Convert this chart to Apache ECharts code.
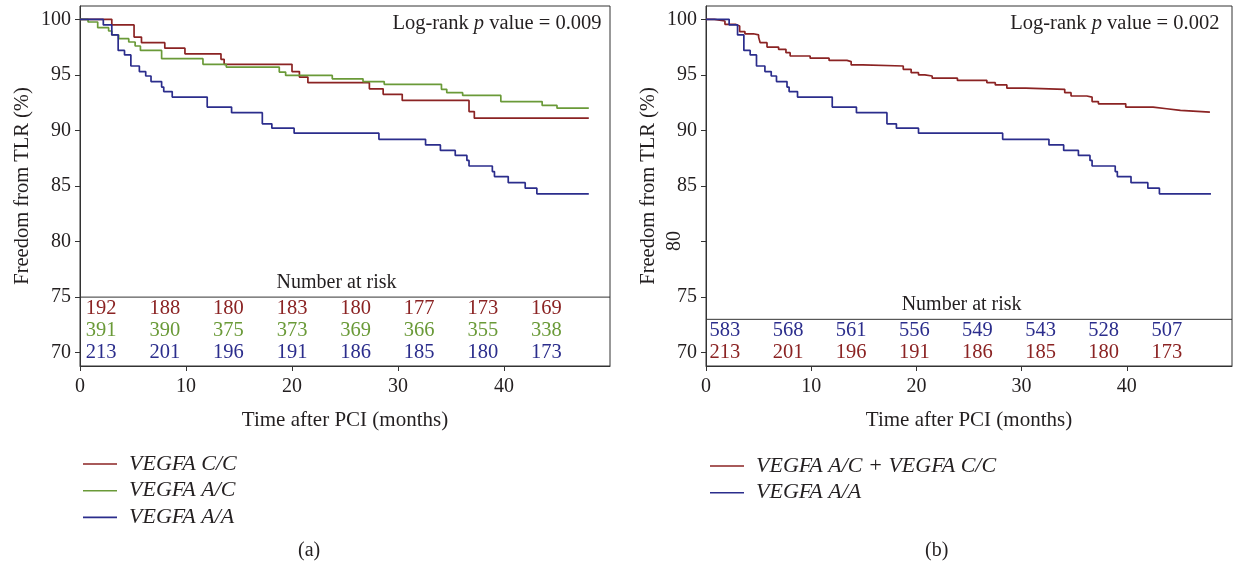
<!DOCTYPE html>
<html>
<head>
<meta charset="utf-8">
<script src="https://cdn.jsdelivr.net/npm/echarts@6/dist/echarts.min.js"></script>
<style>
  html, body { margin: 0; background: #fff; }
  #chart { width: 1235px; height: 565px; }
</style>
</head>
<body>
<div id="chart"></div>
<script>
// Kaplan-Meier curves: [months, freedom from TLR %]
var curveCC = [[0,100],[3.0,99.5],[5.1,98.4],[5.8,97.9],[8.0,97.4],[9.9,96.9],[13.3,96.4],[13.6,95.95],
  [20.0,95.3],[20.7,94.8],[21.5,94.3],[27.3,93.75],[28.6,93.25],[30.4,92.7],[36.7,91.7],[37.2,91.1],[48.0,91.1]]
var curveAC = [[0,100],[0.76,99.76],[1.67,99.25],[2.7,98.95],[3.0,98.6],[3.65,98.26],[4.6,97.96],[5.2,97.6],
  [5.7,97.2],[7.7,96.46],[11.6,95.95],[13.8,95.7],[18.8,95.25],[19.4,94.95],[23.8,94.65],[26.7,94.4],[28.7,94.15],
  [34.1,93.7],[34.6,93.4],[36.1,93.15],[39.7,92.6],[43.6,92.25],[45.0,92.0],[48.0,92.0]]
var curveAA = [[0,100],[2.2,99.5],[3.0,98.6],[3.6,97.2],[4.2,96.8],[4.8,95.8],[5.6,95.3],[6.2,94.9],[6.7,94.4],
  [7.7,93.9],[7.9,93.5],[8.7,93.0],[12.0,92.1],[14.3,91.6],[17.2,90.6],[18.1,90.2],[20.2,89.75],[28.2,89.2],
  [32.6,88.7],[34.0,88.2],[35.4,87.75],[36.5,87.3],[36.7,86.8],[38.9,86.3],[39.1,85.85],[40.4,85.3],[42.0,84.8],
  [43.1,84.3],[48.0,84.3]]
var curveACCC = [[0,100],[0.8,99.85],[1.8,99.55],[2.8,99.4],[3.2,98.9],[3.7,98.7],[4.5,98.6],[5.0,98.4],[5.15,97.9],
  [5.8,97.5],[6.9,97.3],[7.6,97.0],[8.0,96.7],[9.9,96.5],[11.7,96.3],[13.4,96.2],[13.8,95.9],[14.9,95.8],
  [18.75,95.5],[19.5,95.2],[20.2,95.0],[20.8,94.9],[21.5,94.7],[23.9,94.5],[26.7,94.3],[27.5,94.1],[28.6,93.8],
  [30.4,93.7],[34.1,93.4],[34.7,93.1],[36.2,93.0],[36.7,92.6],[37.3,92.4],[39.9,92.1],[42.5,91.95],[43.8,91.8],
  [45.1,91.65],[47.9,91.65]]

// number-at-risk table
var riskTimes = [0, 6, 12, 18, 24, 30, 36, 42]
var riskCC = [192, 188, 180, 183, 180, 177, 173, 169]
var riskAC = [391, 390, 375, 373, 369, 366, 355, 338]
var riskAA = [213, 201, 196, 191, 186, 185, 180, 173]
var riskACCC = [583, 568, 561, 556, 549, 543, 528, 507]

var yTicks = [70, 75, 80, 85, 90, 95, 100]
var xTicks = [0, 10, 20, 30, 40]

var nameCC = 'VEGFA C/C', nameAC = 'VEGFA A/C', nameAA = 'VEGFA A/A', nameACCC = 'VEGFA A/C + VEGFA C/C'

var RED = '#8b2323', GREEN = '#6a9a38', BLUE = '#2b2d8c', INK = '#231f20'
var FONT = '"Liberation Serif", "DejaVu Serif", serif'

var mychart = echarts.init(document.getElementById('chart'))

function xAx(grid) {
  return {
    type: 'value', gridIndex: grid, min: 0, max: 50,
    name: 'Time after PCI (months)', nameLocation: 'middle', nameGap: 44,
    nameTextStyle: { fontFamily: FONT, fontSize: 21, color: INK },
    axisLine: { lineStyle: { color: '#333', width: 1 } },
    axisTick: { customValues: xTicks, length: 5, lineStyle: { color: '#333' } },
    axisLabel: { customValues: xTicks, margin: 11, fontFamily: FONT, fontSize: 20, color: INK },
    splitLine: { show: false }
  }
}
function yAx(grid, labels) {
  return {
    type: 'value', gridIndex: grid, min: 68.8, max: 101.2,
    name: 'Freedom from TLR (%)', nameLocation: 'middle', nameGap: 47,
    nameTextStyle: { fontFamily: FONT, fontSize: 20.5, color: INK },
    axisLine: { show: true, lineStyle: { color: '#333', width: 1 } },
    axisTick: { show: true, customValues: yTicks, length: 5, lineStyle: { color: '#333' } },
    axisLabel: { customValues: labels, margin: 9, fontFamily: FONT, fontSize: 20, color: INK },
    splitLine: { show: false }
  }
}

function km(name, data, color, grid) {
  return {
    name: name, type: 'line', step: 'end', data: data, xAxisIndex: grid, yAxisIndex: grid,
    showSymbol: false, symbol: 'none', silent: true,
    lineStyle: { color: color, width: 1.7 }, itemStyle: { color: color }
  }
}

// invisible points that only carry a text label (scatter defaults to 0.8 opacity, so force 1)
function textSeries(grid, items) {
  return {
    type: 'scatter', xAxisIndex: grid, yAxisIndex: grid, symbolSize: 0, silent: true,
    data: items, itemStyle: { color: 'transparent', opacity: 1 },
    label: { show: true, position: 'inside', fontFamily: FONT, fontSize: 20, color: INK,
      textBorderWidth: 0, formatter: function (p) { return p.data.txt } }
  }
}

function riskRow(grid, counts, rowY, color, offset) {
  return textSeries(grid, counts.map(function (c, i) {
    return { value: [riskTimes[i] + offset, rowY], txt: String(c), label: { color: color, fontSize: 20.5 } }
  }))
}

function hline(grid, y) {
  return {
    type: 'line', xAxisIndex: grid, yAxisIndex: grid, data: [[0, y], [50, y]], symbol: 'none', silent: true,
    lineStyle: { color: '#333', width: 1 }
  }
}

function logRank(grid, x, txt) {
  return {
    type: 'scatter', xAxisIndex: grid, yAxisIndex: grid, symbolSize: 0, silent: true,
    itemStyle: { color: 'transparent', opacity: 1 },
    data: [[x, 99.6]],
    label: {
      show: true, position: 'inside', align: 'right',
      formatter: '{t|Log-rank }{i|p}{t| value = ' + txt + '}',
      rich: {
        t: { fontFamily: FONT, fontSize: 20.5, color: INK },
        i: { fontFamily: FONT, fontSize: 20.5, fontStyle: 'italic', color: INK }
      }
    }
  }
}

var legendStyle = {
  orient: 'vertical', icon: 'rect', itemWidth: 34, itemHeight: 1.6, itemGap: 4.7,
  textStyle: { fontFamily: FONT, fontSize: 22, fontStyle: 'italic', color: INK, lineHeight: 22, padding: [0, 0, 0, 7] },
  selectedMode: false
}

var options = {
  animation: false,
  backgroundColor: '#fff',
  grid: [
    { left: 80, right: 625, top: 6, bottom: 199, show: true, borderColor: '#333', borderWidth: 1 },
    { left: 706, right: 3, top: 6, bottom: 199, show: true, borderColor: '#333', borderWidth: 1 }
  ],
  xAxis: [xAx(0), xAx(1)],
  yAxis: [yAx(0, yTicks), yAx(1, [70, 75, 85, 90, 95, 100])],
  legend: [
    Object.assign({ left: 78, top: 448, data: [nameCC, nameAC, nameAA] }, legendStyle),
    Object.assign({ left: 705, top: 450, data: [nameACCC, nameAA] }, legendStyle)
  ],
  graphic: [
    { type: 'text', left: 298, top: 541, style: { text: '(a)', font: '20px ' + FONT, fill: INK } },
    { type: 'text', left: 925, top: 541, style: { text: '(b)', font: '20px ' + FONT, fill: INK } },
    { type: 'text', x: 675, y: 241, rotation: Math.PI / 2,
      style: { text: '80', font: '20px ' + FONT, fill: INK, align: 'center', verticalAlign: 'middle',
        textAlign: 'center', textVerticalAlign: 'middle' } }
  ],
  series: [
    km(nameCC, curveCC, RED, 0),
    km(nameAC, curveAC, GREEN, 0),
    km(nameAA, curveAA, BLUE, 0),
    km(nameACCC, curveACCC, RED, 1),
    km(nameAA, curveAA, BLUE, 1),
    hline(0, 75),
    hline(1, 73),
    riskRow(0, riskCC, 74, RED, 2.0),
    riskRow(0, riskAC, 72, GREEN, 2.0),
    riskRow(0, riskAA, 70, BLUE, 2.0),
    riskRow(1, riskACCC, 72, BLUE, 1.8),
    riskRow(1, riskAA, 70, RED, 1.8),
    textSeries(0, [{ value: [24.2, 76.3], txt: 'Number at risk' }]),
    textSeries(1, [{ value: [24.3, 74.3], txt: 'Number at risk' }]),
    logRank(0, 49.2, '0.009'),
    logRank(1, 48.8, '0.002')
  ]
}
mychart.setOption(options)
</script>
</body>
</html>
